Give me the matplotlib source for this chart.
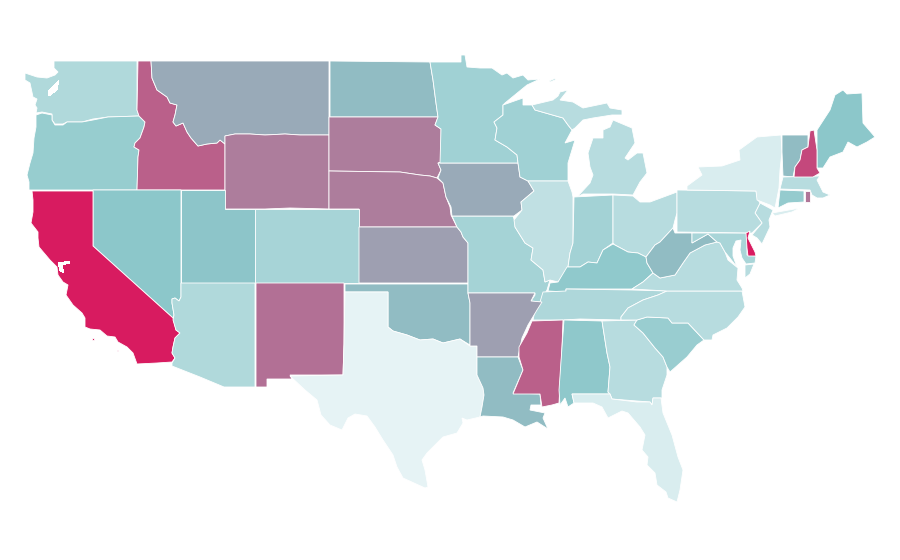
import matplotlib
matplotlib.use("Agg")
import matplotlib.pyplot as plt
from matplotlib.colors import LinearSegmentedColormap, Normalize
from matplotlib.patches import Polygon

# rate per state, 0-100 scale
rates = {"TX":0,"NY":6,"FL":6,"IL":17,"PA":21,"OH":21,"MI":21,"VA":21,"NC":21,"GA":21,"NJ":21,"MA":21,
	"WA":24,"AZ":24,"TN":25,"MD":27,"CO":28,"MO":29,"IN":30,"WI":31,"MN":31,"SC":34,"OR":35,"CT":36,
	"KY":38,"AL":39,"NV":40,"ME":40,"UT":41,"ND":44,"OK":44,"LA":44,"WV":44,"VT":44,"MT":50,"IA":50,
	"KS":54,"AR":54,"WY":66,"SD":66,"NE":66,"RI":68,"NM":70,"ID":76,"MS":76,"NH":84,"CA":100,"DE":100}

# outlines
WA=[(54,61),(137,61),(137,110),(139,116),(108,117),(93,119),(82,122),(67,122),(63,124),(55,124),(52,120),(52,114),(42,112),(36,113),(37,108),(35,105),(37,99),(33,97),(30,83),(25,80),(25,73),(37,77),(47,78),(55,75),(58,72),(54,68)]
OR=[(36,115),(42,113),(52,115),(52,120),(55,125),(63,125),(67,122),(82,122),(93,120),(108,117),(139,116),(145,122),(144,127),(140,138),(135,143),(134,147),(139,150),(138,157),(137,190),(29,190),(29,182),(27,175),(30,163),(33,153),(34,138),(36,127)]
ID=[(138,61),(151,61),(152,78),(157,90),(167,97),(170,103),(177,105),(175,115),(173,122),(176,126),(183,123),(187,132),(191,138),(198,146),(207,144),(217,143),(220,140),(225,144),(225,190),(137,190),(138,157),(139,150),(134,147),(135,143),(140,138),(144,127),(145,122),(139,116),(137,110)]
MT=[(151,61),(329,61),(329,135),(300,135),(285,134),(265,135),(250,134),(235,134),(225,136),(225,144),(220,140),(217,143),(207,144),(198,146),(191,138),(187,132),(183,123),(176,126),(173,122),(175,115),(177,105),(170,103),(167,97),(157,90),(152,78)]
WY=[(225,136),(235,134),(250,134),(265,135),(285,134),(300,135),(329,135),(329,209),(290,208),(265,209),(225,209)]
ND=[(330,61),(430,62),(433,80),(436,103),(438,117),(330,117)]
SD=[(329,117),(438,117),(435,125),(441,129),(441,162),(438,163),(441,170),(437,178),(430,176),(420,175),(400,172),(329,171)]
NE=[(329,171),(400,172),(420,175),(430,176),(437,178),(443,183),(446,197),(450,207),(451,215),(457,227),(359,227),(359,209),(329,209)]
CO=[(255,209),(359,209),(359,283),(255,283)]
UT=[(181,190),(225,190),(225,209),(255,209),(255,283),(181,283)]
NV=[(93,190),(181,190),(181,297),(179,301),(175,298),(172,299),(172,303),(174,315),(173,318),(93,246)]
CA=[(32,191),(93,191),(93,246),(173,318),(176,330),(180,333),(175,338),(173,347),(172,353),(175,358),(172,362),(157,363),(137,364),(133,353),(127,347),(118,342),(115,337),(107,336),(100,330),(90,329),(85,327),(85,318),(82,313),(73,305),(66,295),(68,285),(63,282),(58,275),(57,267),(50,260),(39,247),(38,238),(38,232),(31,223),(33,212),(33,200)]
CA_ISLAND_A=[(92,338),(94,338),(94,340),(92,340)]
CA_ISLAND_B=[(117,350),(118,350),(118,351),(117,351)]
AZ=[(181,283),(255,283),(255,387),(224,387),(200,377),(172,366),(172,363),(175,358),(172,353),(173,347),(175,338),(180,333),(176,330),(173,320),(174,315),(172,303),(172,299),(175,298),(179,301),(181,297)]
NM=[(256,283),(344,283),(344,344),(343,375),(290,375),(292,379),(267,379),(267,387),(256,387)]
TX=[(345,292),(388,292),(388,327),(393,331),(407,335),(420,340),(433,339),(443,343),(460,339),(470,346),(477,346),(477,375),(483,388),(484,395),(482,407),(480,417),(467,420),(462,418),(463,423),(457,433),(443,437),(437,443),(427,453),(422,460),(425,470),(428,487),(425,488),(403,478),(397,467),(393,455),(383,440),(375,427),(367,416),(355,414),(348,418),(342,430),(330,425),(321,415),(317,400),(305,390),(290,376),(343,375),(344,344)]
OK=[(345,284),(468,284),(468,293),(470,303),(470,345),(460,339),(443,343),(433,339),(420,340),(407,335),(393,331),(388,327),(388,292),(345,292)]
KS=[(359,227),(457,227),(461,232),(463,237),(468,243),(468,283),(359,283)]
MO=[(452,216),(513,216),(515,222),(515,227),(525,243),(533,248),(531,260),(543,270),(545,282),(550,280),(547,290),(540,302),(531,301),(535,295),(535,293),(468,293),(468,243),(463,237),(461,232),(457,227)]
IL=[(528,181),(568,181),(572,192),(573,197),(573,243),(570,253),(568,267),(563,275),(558,282),(550,280),(545,282),(543,270),(531,260),(533,248),(525,243),(515,227),(514,220),(522,210),(521,202),(534,191)]
IA=[(440,163),(518,163),(520,177),(528,181),(534,191),(521,202),(522,210),(514,216),(452,216),(451,207),(446,197),(443,183),(438,178),(441,170),(438,163)]
MN=[(430,62),(461,62),(461,55),(465,55),(467,67),(480,68),(492,68),(502,75),(507,73),(513,78),(523,75),(528,80),(540,79),(527,85),(505,103),(503,105),(503,115),(494,122),(497,128),(495,140),(507,147),(517,155),(518,163),(440,163),(441,129),(435,125),(438,117),(436,103),(433,80)]
WI=[(503,105),(523,98),(523,105),(532,105),(535,110),(563,118),(568,125),(572,130),(565,143),(575,140),(568,163),(568,181),(528,181),(520,177),(518,163),(517,155),(507,147),(495,140),(497,128),(494,122),(503,115)]
MI_UP=[(535,110),(532,105),(553,100),(558,96),(560,92),(568,90),(560,100),(573,102),(583,108),(607,103),(610,108),(622,110),(622,115),(612,115),(593,118),(583,120),(575,128),(572,130),(568,125),(563,118)]
MI_LP=[(577,197),(583,194),(613,194),(633,195),(640,182),(647,173),(643,153),(637,153),(628,160),(625,158),(635,143),(632,128),(613,120),(610,127),(603,130),(603,138),(593,138),(588,153),(590,167),(593,175),(590,183)]
MI_ISLE=[(549,81),(556,78),(555,80),(550,82)]
IN=[(574,197),(613,195),(613,243),(603,250),(597,263),(588,262),(580,267),(568,267),(570,253),(573,243)]
OH=[(613,195),(633,196),(640,202),(650,202),(677,192),(677,213),(675,220),(673,228),(660,242),(655,245),(646,257),(638,253),(628,252),(615,245),(613,243)]
KY=[(613,244),(628,252),(638,253),(646,257),(647,263),(653,273),(643,282),(632,289),(603,289),(566,289),(566,292),(548,291),(550,283),(558,282),(567,267),(580,267),(588,262),(597,263),(603,250)]
TN=[(540,302),(543,292),(566,291),(566,289),(632,290),(667,291),(658,295),(643,300),(628,308),(621,317),(621,320),(580,319),(563,320),(533,320),(535,310)]
AR=[(468,293),(535,293),(531,301),(542,302),(537,310),(528,325),(522,338),(518,357),(477,357),(477,346),(470,346),(470,303)]
LA=[(477,357),(518,357),(523,370),(513,393),(540,394),(541,405),(531,405),(530,410),(545,413),(543,418),(548,429),(537,422),(525,427),(513,420),(503,417),(483,416),(480,417),(482,407),(484,395),(483,388),(477,375)]
MS=[(532,321),(563,320),(562,347),(559,403),(552,405),(542,407),(540,394),(513,394),(523,370),(519,357),(519,347),(527,333)]
AL=[(564,320),(602,321),(607,353),(610,367),(608,392),(610,394),(572,394),(574,403),(568,407),(565,398),(560,405),(559,390),(562,347)]
GA=[(602,321),(637,320),(634,325),(643,333),(655,348),(663,357),(667,367),(667,375),(662,390),(662,398),(653,398),(652,405),(650,402),(637,401),(612,399),(610,394),(608,392),(610,367),(607,353)]
FL=[(572,394),(610,394),(612,399),(637,402),(650,402),(652,405),(653,398),(661,398),(663,413),(672,435),(678,457),(683,470),(680,490),(677,502),(668,498),(666,492),(657,485),(655,473),(647,465),(648,457),(642,450),(645,435),(640,427),(628,413),(622,411),(608,418),(602,407),(593,403),(577,403),(574,403)]
SC=[(637,320),(647,317),(668,318),(672,323),(688,323),(704,340),(697,345),(687,357),(670,372),(667,367),(663,357),(655,348),(643,333),(634,325)]
NC=[(667,291),(742,291),(745,307),(738,317),(727,328),(713,335),(712,340),(704,340),(688,323),(672,323),(668,318),(647,317),(637,320),(621,320),(621,317),(628,308),(643,300),(658,295)]
VA=[(632,289),(643,282),(653,273),(660,278),(675,275),(683,263),(690,253),(705,245),(717,242),(720,243),(725,252),(728,260),(738,268),(737,280),(742,288),(743,291),(667,291)]
VA_SHORE=[(745,265),(754,264),(750,274),(745,278)]
WV=[(646,257),(655,245),(660,242),(673,228),(675,233),(692,233),(692,243),(708,234),(717,242),(705,245),(690,253),(683,263),(675,275),(660,278),(653,273),(647,263)]
MD=[(692,233),(747,233),(747,255),(756,256),(755,263),(746,264),(742,258),(740,250),(741,240),(736,241),(733,248),(733,256),(737,267),(725,252),(720,243),(717,242),(708,234),(692,243)]
DE=[(746,233),(750,231),(748,238),(755,252),(756,256),(748,256),(747,248)]
NJ=[(760,203),(773,210),(769,220),(770,227),(762,244),(757,238),(752,235),(762,223),(755,213)]
PA=[(677,190),(756,191),(758,200),(760,203),(755,213),(762,223),(752,233),(677,232)]
NY=[(687,186),(702,175),(698,167),(722,166),(740,160),(739,150),(757,137),(781,135),(782,152),(780,170),(779,188),(775,208),(770,205),(757,200),(756,191),(687,190)]
NY_LI=[(772,213),(800,208),(792,212),(775,216)]
VT=[(782,135),(808,135),(808,147),(802,150),(800,160),(795,167),(793,177),(783,176),(782,152)]
NH=[(810,131),(814,130),(817,150),(817,168),(820,173),(813,177),(794,177),(795,167),(800,160),(802,150),(808,147)]
ME=[(817,130),(830,110),(835,95),(843,90),(847,94),(862,93),(863,123),(875,137),(867,142),(857,147),(848,142),(843,152),(830,157),(823,168),(817,168),(817,150)]
MA=[(783,177),(820,176),(817,180),(823,192),(830,195),(823,198),(817,198),(812,195),(810,190),(780,189)]
CT=[(780,190),(804,191),(804,202),(788,203),(778,208)]
RI=[(805,191),(810,191),(810,202),(805,202)]

# white water cut out of the land
PUGET=[(48,92),(55,84),(59,80),(57,90),(49,96)]
SF_BAY=[(58,263),(70,261),(70,263),(62,265),(64,273),(60,271)]

outlines = [("WA",WA),("OR",OR),("ID",ID),("MT",MT),("WY",WY),("ND",ND),("SD",SD),("NE",NE),("CO",CO),("UT",UT),
	("NV",NV),("CA",CA),("CA",CA_ISLAND_A),("CA",CA_ISLAND_B),("AZ",AZ),("NM",NM),("OK",OK),("KS",KS),("TX",TX),
	("MO",MO),("IA",IA),("MN",MN),("WI",WI),("IL",IL),("MI",MI_UP),("MI",MI_LP),("MI",MI_ISLE),("IN",IN),("OH",OH),
	("KY",KY),("TN",TN),("AR",AR),("LA",LA),("MS",MS),("AL",AL),("GA",GA),("FL",FL),("SC",SC),("NC",NC),("VA",VA),("VA",VA_SHORE),
	("WV",WV),("MD",MD),("NJ",NJ),("PA",PA),("NY",NY),("NY",NY_LI),("VT",VT),("ME",ME),("MA",MA),("CT",CT),("RI",RI),
	("NH",NH),("DE",DE)]

cmap = LinearSegmentedColormap.from_list("rate", [(0,"#e6f3f5"),(0.4,"#8cc7ca"),(1,"#d81b60")])
norm = Normalize(0,100)

fig = plt.figure(figsize=(9,5.6),dpi=100)
ax = fig.add_axes([0,0,1,1])
ax.set_xlim(0,900)
ax.set_ylim(560,0)
ax.axis("off")

for code,outline in outlines:
	ax.add_patch(Polygon(outline,closed=True,facecolor=cmap(norm(rates[code])),edgecolor="white",linewidth=0.6,antialiased=True))

for water in (PUGET,SF_BAY):
	ax.add_patch(Polygon(water,closed=True,facecolor="white",edgecolor="none",antialiased=False))

fig.savefig("out.png",dpi=100)
